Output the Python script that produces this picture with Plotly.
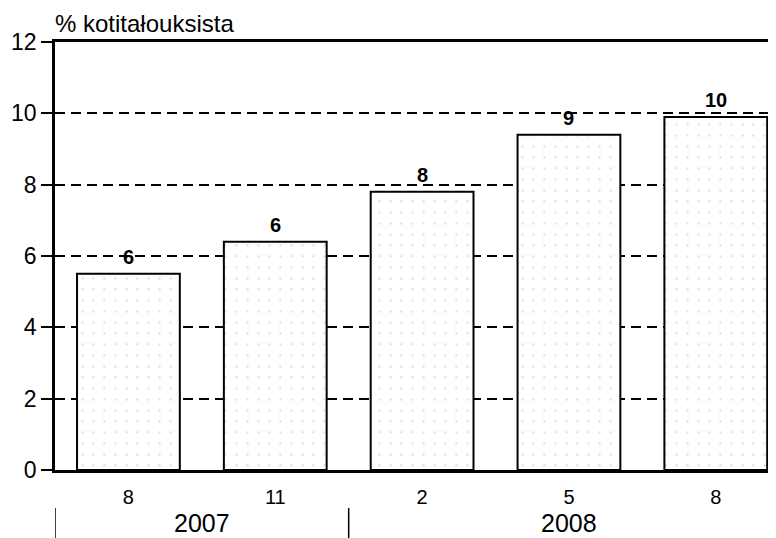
import plotly.graph_objects as go

months = ["8", "11", "2", "5", "8"]
values = [5.5, 6.4, 7.8, 9.4, 9.9]
value_labels = ["6", "6", "8", "9", "10"]
years = ["2007", "2008"]
year_centers = [0.5, 3.0]
year_bounds = [-0.5, 1.5]
y_ticks = [0, 2, 4, 6, 8, 10, 12]

FONT = "Liberation Sans, Arial"
x = list(range(len(months)))

fig = go.Figure()
fig.add_trace(go.Bar(
    x=x, y=values, width=0.70,
    marker=dict(color="white", line=dict(color="black", width=2),
                pattern=dict(shape=".", fgcolor="#d0d0d0", bgcolor="white", size=11, solidity=0.05)),
    hoverinfo="skip", showlegend=False,
))

for xi, v, t in zip(x, values, value_labels):
    fig.add_annotation(x=xi, y=v, text=f"<b>{t}</b>", showarrow=False, yanchor="bottom",
                       yshift=4, font=dict(size=20, color="black", family=FONT))

for xc, yr in zip(year_centers, years):
    fig.add_annotation(x=xc, y=-0.124, xref="x", yref="paper", text=yr, showarrow=False,
                       yanchor="middle", font=dict(size=25, color="black", family=FONT))

for xb in year_bounds:
    fig.add_shape(type="line", xref="x", yref="paper", x0=xb, x1=xb, y0=-0.089, y1=-0.17,
                  line=dict(color="black", width=1.5))

fig.add_annotation(x=0, y=1.0, xref="paper", yref="paper", text="% kotitałouksista", showarrow=False,
                   xanchor="left", yanchor="bottom", yshift=4, xshift=-1, borderpad=0,
                   font=dict(size=24, color="black", family=FONT))

fig.update_layout(
    width=776, height=538,
    margin=dict(l=47, r=8, t=34, b=76),
    paper_bgcolor="white", plot_bgcolor="white",
    font=dict(family=FONT, color="black"),
    xaxis=dict(range=[-0.5, 4.41], tickvals=x, ticktext=months, showgrid=False,
               showline=True, linecolor="black", linewidth=2.5, mirror=True, automargin=False,
               ticks="", tickfont=dict(size=20), ticklabelstandoff=7, zeroline=False),
    yaxis=dict(range=[0, 12], tickvals=y_ticks, showgrid=True, gridcolor="black", gridwidth=1.5,
               griddash="10px,6px", showline=True, linecolor="black", linewidth=2.5, automargin=False,
               ticks="outside", ticklen=11, tickwidth=1.5, tickcolor="black",
               tickfont=dict(size=23), zeroline=False),
)

fig.write_html("out.html")
